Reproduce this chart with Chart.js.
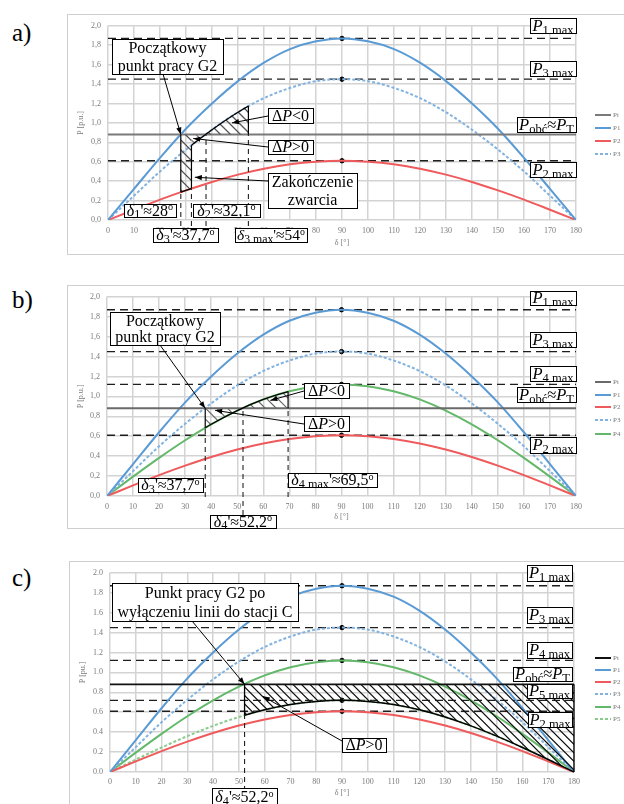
<!DOCTYPE html>
<html><head><meta charset="utf-8">
<script src="https://cdn.jsdelivr.net/npm/chart.js@4.4.0/dist/chart.umd.min.js"></script>
<style>
html,body{margin:0;padding:0;background:#fff;}
body{width:624px;height:804px;overflow:hidden;position:relative;}
canvas{position:absolute;}
.pl{position:absolute;font-family:"Liberation Serif",serif;font-size:25px;color:#000;line-height:1;}
</style></head><body>
<div class="pl" style="left:12px;top:20px">a)</div>
<div class="pl" style="left:12px;top:287px">b)</div>
<div class="pl" style="left:12px;top:565px">c)</div>
<canvas id="ca" width="600" height="241" style="left:67px;top:14px"></canvas>
<canvas id="cb" width="600" height="244" style="left:67px;top:285px"></canvas>
<canvas id="cc" width="600" height="250" style="left:69px;top:561px"></canvas>
<script>
// ---------------- data ----------------
const delta = [0,10,20,30,40,50,60,70,80,90,100,110,120,130,140,150,160,170,180];
const P1 = [0,0.32,0.64,0.94,1.20,1.43,1.62,1.76,1.84,1.87,1.84,1.76,1.62,1.43,1.20,0.94,0.64,0.32,0];
const P2 = [0,0.106,0.21,0.305,0.392,0.467,0.528,0.573,0.60,0.61,0.60,0.573,0.528,0.467,0.392,0.305,0.21,0.106,0];
const P3 = [0,0.25,0.50,0.725,0.93,1.11,1.255,1.36,1.43,1.45,1.43,1.36,1.255,1.11,0.93,0.725,0.50,0.25,0];
const P4 = [0,0.195,0.383,0.56,0.72,0.858,0.97,1.052,1.103,1.12,1.103,1.052,0.97,0.858,0.72,0.56,0.383,0.195,0];
const P5 = [0,0.125,0.246,0.36,0.463,0.552,0.624,0.677,0.709,0.72,0.709,0.677,0.624,0.552,0.463,0.36,0.246,0.125,0];
const PobcDelta = [0,180];
const Pobc = [0.88,0.88];
const yTickLabelsComma = ['0,0','0,2','0,4','0,6','0,8','1,0','1,2','1,4','1,6','1,8','2,0'];
const yTickLabelsDot = ['0.0','0.2','0.4','0.6','0.8','1.0','1.2','1.4','1.6','1.8','2.0'];
const anglesA = [28, 32.1, 37.7, 54];     // δ1', δ2', δ3', δ3max'
const anglesB = [37.7, 52.2, 69.5];       // δ3', δ4', δ4max'
const anglesC = [52.2];                   // δ4'
const i90 = delta.indexOf(90);

// ---------------- styling ----------------
const FAM = 'Liberation Serif';
const FF = '"Liberation Serif","Times New Roman",serif';
const C_BLUE = '#5b9bd5', C_BLUE_L = '#82b3e0', C_RED = '#ef5a5c', C_GREEN = '#63b86a', C_GREEN_L = '#8acb8d';
const TICK = '#7a7a7a';

const I = t => ({t, it:true}), N = t => ({t}), S = t => ({t, sub:true}), U = t => ({t, sup:true});
const pmax = n => [[I('P'), S(n + ' max')]];
const pobcLbl = [[I('P'), S('obć'), N('≈'), I('P'), S('T')]];
const dP = s => [[N('Δ'), I('P'), N(s + '0')]];
const dl = (sub, val) => [[I('δ'), S(sub), N("'≈" + val), U('o')]];

function fontFor(seg, m) {
  const sz = seg.sub ? m * 0.76 : seg.sup ? m * 0.64 : m;
  return (seg.it ? 'italic ' : '') + sz.toFixed(1) + 'px ' + FF;
}
function drawRich(ctx, segs, cx, base, m) {
  let tot = 0; const ws = [];
  segs.forEach(s => { ctx.font = fontFor(s, m); const w = ctx.measureText(s.t).width; ws.push(w); tot += w; });
  let x = cx - tot / 2;
  ctx.textAlign = 'left'; ctx.textBaseline = 'alphabetic'; ctx.fillStyle = '#000';
  segs.forEach((s, k) => {
    ctx.font = fontFor(s, m);
    const dy = s.sub ? m * 0.16 : s.sup ? -m * 0.36 : 0;
    ctx.fillText(s.t, x, base + dy); x += ws[k];
  });
}
function curvePath(ctx, pts) {
  ctx.moveTo(pts[0].x, pts[0].y);
  for (let k = 1; k < pts.length; k++) {
    const p = pts[k - 1], t = pts[k];
    if (p.cp2x !== undefined && t.cp1x !== undefined) ctx.bezierCurveTo(p.cp2x, p.cp2y, t.cp1x, t.cp1y, t.x, t.y);
    else ctx.lineTo(t.x, t.y);
  }
}

function kit(chart, o) {
  const ctx = chart.ctx, xs = chart.scales.x, ys = chart.scales.y;
  const X = v => xs.getPixelForValue(v), Y = v => ys.getPixelForValue(v);
  const big = 5000;
  function lim(spec, side) {
    ctx.beginPath();
    if (spec.ds !== undefined) {
      const pts = chart.getDatasetMeta(spec.ds).data;
      curvePath(ctx, pts);
      const yy = side === 'above' ? -big : big;
      ctx.lineTo(pts[pts.length - 1].x, yy); ctx.lineTo(pts[0].x, yy); ctx.closePath();
    } else {
      const y = spec.v !== undefined ? Y(spec.v) : spec.py - o[1];
      if (side === 'above') ctx.rect(-big, -big, 2 * big, y + big); else ctx.rect(-big, y, 2 * big, big);
    }
    ctx.clip();
  }
  return {
    X, Y,
    region(x0, x1, lo, hi, sp, col, lw) {
      ctx.save(); ctx.beginPath(); ctx.rect(X(x0), -big, X(x1) - X(x0), 2 * big); ctx.clip();
      lim(lo, 'above'); lim(hi, 'below');
      const T = Y(2), B = Y(0), h = B - T;
      ctx.beginPath();
      for (let k = X(x0) - h; k < X(x1) + 1; k += sp) { ctx.moveTo(k, T); ctx.lineTo(k + h, B); }
      ctx.strokeStyle = col; ctx.lineWidth = lw; ctx.setLineDash([]); ctx.stroke(); ctx.restore();
    },
    vseg(x, lo, hi, dash, col, lw) {
      ctx.save(); const p = X(x);
      ctx.beginPath(); ctx.rect(p - 3, -big, 6, 2 * big); ctx.clip();
      lim(lo, 'above'); lim(hi, 'below');
      ctx.beginPath(); ctx.moveTo(p, 0); ctx.lineTo(p, chart.height);
      ctx.strokeStyle = col || '#000'; ctx.lineWidth = lw || 1.2; ctx.setLineDash(dash || []); ctx.stroke(); ctx.restore();
    },
    cseg(ds, x0, x1, col, lw) {
      ctx.save(); ctx.beginPath(); ctx.rect(X(x0), -big, X(x1) - X(x0), 2 * big); ctx.clip();
      ctx.beginPath(); curvePath(ctx, chart.getDatasetMeta(ds).data);
      ctx.strokeStyle = col || '#000'; ctx.lineWidth = lw || 1.3; ctx.setLineDash([]); ctx.stroke(); ctx.restore();
    },
    arrow(fromPage, toData) {
      const f = [fromPage[0] - o[0], fromPage[1] - o[1]], t = [X(toData[0]), Y(toData[1])];
      ctx.save(); ctx.strokeStyle = '#000'; ctx.lineWidth = 1; ctx.setLineDash([]);
      ctx.beginPath(); ctx.moveTo(f[0], f[1]); ctx.lineTo(t[0], t[1]); ctx.stroke();
      const a = Math.atan2(t[1] - f[1], t[0] - f[0]), L = 7, W = 2.6;
      ctx.beginPath(); ctx.moveTo(t[0], t[1]);
      ctx.lineTo(t[0] - L * Math.cos(a) + W * Math.sin(a), t[1] - L * Math.sin(a) - W * Math.cos(a));
      ctx.lineTo(t[0] - L * Math.cos(a) - W * Math.sin(a), t[1] - L * Math.sin(a) + W * Math.cos(a));
      ctx.closePath(); ctx.fillStyle = '#000'; ctx.fill(); ctx.restore();
    },
    box(l, t, r, b, lines, m) {
      l -= o[0]; r -= o[0]; t -= o[1]; b -= o[1];
      ctx.save(); ctx.setLineDash([]);
      ctx.fillStyle = '#fff'; ctx.fillRect(l, t, r - l, b - t);
      ctx.strokeStyle = '#000'; ctx.lineWidth = 1; ctx.strokeRect(Math.round(l) + 0.5, Math.round(t) + 0.5, Math.round(r - l), Math.round(b - t));
      const lh = (b - t) / lines.length;
      lines.forEach((segs, k) => {
        if (typeof segs === 'string') segs = [N(segs)];
        drawRich(ctx, segs, (l + r) / 2, t + lh * (k + 0.5) + m * 0.33, m);
      });
      ctx.restore();
    },
    legend(x0, ysPage, n) {
      ctx.save();
      for (let k = 0; k < n; k++) {
        const d = chart.data.datasets[k], y = ysPage[k] - o[1], x = x0 - o[0];
        ctx.beginPath(); ctx.moveTo(x, y); ctx.lineTo(x + 16, y);
        ctx.strokeStyle = d.borderColor; ctx.lineWidth = 2; ctx.setLineDash(d.borderDash || []); ctx.stroke();
        ctx.setLineDash([]); ctx.fillStyle = '#777'; ctx.font = '7px ' + FF; ctx.textBaseline = 'middle'; ctx.textAlign = 'left';
        ctx.fillText(d.label, x + 18, y);
      }
      ctx.restore();
    }
  };
}

function build(id, cfg) {
  const canvas = document.getElementById(id);
  const W = canvas.width, H = canvas.height, A = cfg.area;
  const datasets = cfg.series.map(s => ({
    label: s.label,
    data: s.x.map((x, k) => ({x, y: s.y[k]})),
    borderColor: s.color, borderWidth: s.w || 2, borderDash: s.dash || [],
    pointRadius: 0, cubicInterpolationMode: 'monotone', fill: false
  }));
  const maxima = cfg.maxSeries.map(arr => arr[i90]);
  maxima.forEach(v => datasets.push({
    label: '', data: [{x: delta[0], y: v}, {x: delta[delta.length - 1], y: v}],
    borderColor: '#1e1e1e', borderWidth: 1.3, borderDash: [8, 5], pointRadius: 0, fill: false
  }));
  datasets.push({
    label: '', data: maxima.map(v => ({x: delta[i90], y: v})), showLine: false,
    pointRadius: 2.2, pointBackgroundColor: '#000', pointBorderColor: '#000', borderColor: '#000'
  });
  const tickFont = {family: FAM, size: 8};
  const annot = {
    id: 'annot',
    beforeDraw(chart) {
      const c = chart.ctx; c.save(); c.strokeStyle = '#cfcfcf'; c.lineWidth = 1;
      c.strokeRect(0.5, 0.5, W - 1, H - 1); c.restore();
    },
    afterDatasetsDraw(chart) { cfg.draw(kit(chart, cfg.origin)); }
  };
  new Chart(canvas, {
    type: 'line',
    data: {datasets},
    plugins: [annot],
    options: {
      responsive: false, animation: false, devicePixelRatio: 1,
      layout: {padding: {left: 0, top: A.top, right: W - A.right, bottom: 0}},
      plugins: {legend: {display: false}, tooltip: {enabled: false}},
      scales: {
        x: {
          type: 'linear', min: 0, max: 180,
          ticks: {stepSize: 10, autoSkip: false, maxRotation: 0, padding: cfg.xTickPad, color: TICK, font: tickFont},
          grid: {color: '#d3d3d3', lineWidth: 1.5, drawTicks: false}, border: {display: false},
          title: {display: true, text: 'δ [°]', color: TICK, font: tickFont, padding: {top: 0, bottom: cfg.xTitlePad}},
          afterFit: s => { s.height = H - A.bottom; }
        },
        y: {
          type: 'linear', min: 0, max: 2,
          ticks: {stepSize: 0.2, padding: 7, color: TICK, font: tickFont,
                  callback: v => cfg.yLabels[Math.round(v * 5)]},
          grid: {color: '#d3d3d3', lineWidth: 1.5, drawTicks: false}, border: {display: false},
          title: {display: true, text: cfg.yTitle, color: TICK, font: tickFont, padding: {top: 9, bottom: 0}},
          afterFit: s => { s.width = A.left; }
        }
      }
    }
  });
}

// ---------------- panel a ----------------
build('ca', {
  origin: [67, 14], area: {left: 41, top: 9, right: 509, bottom: 206},
  xTickPad: 6, xTitlePad: 7, yTitle: 'P [p.u.]', yLabels: yTickLabelsComma,
  series: [
    {label: 'Pt', x: PobcDelta, y: Pobc, color: '#7a7a7a', w: 2},
    {label: 'P1', x: delta, y: P1, color: C_BLUE},
    {label: 'P2', x: delta, y: P2, color: C_RED},
    {label: 'P3', x: delta, y: P3, color: C_BLUE_L, dash: [3, 2]}
  ],
  maxSeries: [P1, P3, P2],
  draw(k) {
    const [d1, d2, d3, d3m] = anglesA, pob = {v: Pobc[0]};
    k.region(d1, d2, {ds: 2}, pob, 10, '#555', 1.3);
    k.region(d2, d3, {ds: 3}, pob, 10, '#777', 1.2);
    k.region(d3, d3m, pob, {ds: 3}, 10, '#555', 1.3);
    k.vseg(d1, {ds: 2}, pob); k.cseg(2, d1, d2); k.vseg(d2, {ds: 2}, {ds: 3});
    k.cseg(3, d2, d3m); k.vseg(d3m, pob, {ds: 3});
    const dash = [5, 4];
    k.vseg(d1, {py: 229}, {ds: 2}, dash, '#222', 1.1);
    k.vseg(d2, {py: 229}, {ds: 2}, dash, '#222', 1.1);
    k.vseg(d3, {py: 229}, pob, dash, '#222', 1.1);
    k.vseg(d3m, {py: 229}, pob, dash, '#222', 1.1);
    k.arrow([163, 74], [d1, Pobc[0]]);
    k.arrow([268, 116], [47.7, 1.0]);
    k.arrow([268, 147], [32.8, 0.84]);
    k.arrow([268, 181], [33.4, 0.44]);
    k.box(112, 39, 223, 74, ['Początkowy', 'punkt pracy G2'], 16);
    k.box(268, 108, 313, 123, dP('<'), 16);
    k.box(268, 140, 313, 154, dP('>'), 16);
    k.box(268, 173, 357, 208, ['Zakończenie', 'zwarcia'], 16);
    k.box(530, 18, 576, 33, pmax('1'), 16.5);
    k.box(530, 61, 576, 76, pmax('3'), 16.5);
    k.box(517, 117, 576, 132, pobcLbl, 16.5);
    k.box(530, 162, 576, 177, pmax('2'), 16.5);
    k.box(124, 204, 176, 217, dl('1', '28'), 16);
    k.box(193, 204, 260, 217, dl('2', '32,1'), 16);
    k.box(153, 228, 218, 242, dl('3', '37,7'), 16);
    k.box(235, 228, 307, 242, dl('3 max', '54'), 15.5);
    k.legend(595, [115, 128, 141, 154], 4);
  }
});

// ---------------- panel b ----------------
build('cb', {
  origin: [67, 285], area: {left: 40, top: 11, right: 509, bottom: 211},
  xTickPad: 6, xTitlePad: 7, yTitle: 'P [p.u.]', yLabels: yTickLabelsComma,
  series: [
    {label: 'Pt', x: PobcDelta, y: Pobc, color: '#6a6a6a', w: 2},
    {label: 'P1', x: delta, y: P1, color: C_BLUE},
    {label: 'P2', x: delta, y: P2, color: C_RED},
    {label: 'P3', x: delta, y: P3, color: C_BLUE_L, dash: [3, 2]},
    {label: 'P4', x: delta, y: P4, color: C_GREEN}
  ],
  maxSeries: [P1, P3, P4, P2],
  draw(k) {
    const [d3, d4, d4m] = anglesB, pob = {v: Pobc[0]};
    k.region(d3, d4, {ds: 4}, pob, 11, '#666', 1.2);
    k.region(d4, d4m, pob, {ds: 4}, 11, '#666', 1.2);
    k.vseg(d3, {ds: 4}, pob); k.cseg(4, d3, d4m); k.vseg(d4m, pob, {ds: 4});
    const dash = [5, 4];
    k.vseg(d3, {py: 497}, {ds: 4}, dash, '#222', 1.1);
    k.vseg(d4, {py: 515}, pob, dash, '#222', 1.1);
    k.vseg(d4m, {py: 497}, pob, dash, '#222', 1.1);
    k.arrow([160, 345], [d3, Pobc[0]]);
    k.arrow([304, 391], [62.7, 0.96]);
    k.arrow([304, 424], [41.5, 0.86]);
    k.box(110, 312, 220, 345, ['Początkowy', 'punkt pracy G2'], 16);
    k.box(304, 383, 349, 398, dP('<'), 16);
    k.box(304, 416, 349, 431, dP('>'), 16);
    k.box(530, 291, 576, 305, pmax('1'), 16.5);
    k.box(530, 332, 576, 347, pmax('3'), 16.5);
    k.box(530, 366, 576, 381, pmax('4'), 16.5);
    k.box(517, 387, 576, 402, pobcLbl, 16.5);
    k.box(530, 437, 576, 453, pmax('2'), 16.5);
    k.box(138, 478, 203, 492, dl('3', '37,7'), 16);
    k.box(210, 515, 276, 528, dl('4', '52,2'), 16);
    k.box(288, 473, 377, 487, dl('4 max', '69,5'), 16);
    k.legend(595, [382, 395, 407, 420, 434], 5);
  }
});

// ---------------- panel c ----------------
build('cc', {
  origin: [69, 561], area: {left: 41, top: 8, right: 505, bottom: 211},
  xTickPad: 5, xTitlePad: 13, yTitle: 'P [pu.]', yLabels: yTickLabelsDot,
  series: [
    {label: 'Pt', x: PobcDelta, y: Pobc, color: '#111111', w: 1.6},
    {label: 'P1', x: delta, y: P1, color: C_BLUE},
    {label: 'P2', x: delta, y: P2, color: C_RED},
    {label: 'P3', x: delta, y: P3, color: C_BLUE_L, dash: [3, 2]},
    {label: 'P4', x: delta, y: P4, color: C_GREEN},
    {label: 'P5', x: delta, y: P5, color: C_GREEN_L, dash: [3, 2]}
  ],
  maxSeries: [P1, P3, P4, P5, P2],
  draw(k) {
    const [d4] = anglesC, pob = {v: Pobc[0]}, end = delta[delta.length - 1];
    k.region(d4, end, {ds: 5}, pob, 8.5, '#111', 1.2);
    k.vseg(d4, {ds: 5}, pob, [], '#000', 1.3);
    k.cseg(5, d4, end, '#000', 1.5);
    k.vseg(end, {v: 0}, pob, [], '#000', 1.3);
    k.vseg(d4, {py: 789}, {ds: 5}, [5, 4], '#222', 1.1);
    k.arrow([192, 621], [d4, Pobc[0]]);
    k.arrow([342, 741], [59.3, 0.76]);
    k.box(112, 583, 298, 621, ['Punkt pracy G2 po', 'wyłączeniu linii do stacji C'], 16);
    k.box(342, 738, 386, 752, dP('>'), 16);
    k.box(527, 565, 572, 581, pmax('1'), 16.5);
    k.box(527, 607, 572, 623, pmax('3'), 16.5);
    k.box(527, 642, 572, 658, pmax('4'), 16.5);
    k.box(513, 667, 572, 681, pobcLbl, 16.5);
    k.box(527, 684, 572, 698, pmax('5'), 16.5);
    k.box(528, 712, 572, 727, pmax('2'), 16.5);
    k.box(212, 788, 277, 806, dl('4', '52,2'), 16);
    k.legend(595, [658, 670, 682, 694, 707, 719], 6);
  }
});
</script>
</body></html>
